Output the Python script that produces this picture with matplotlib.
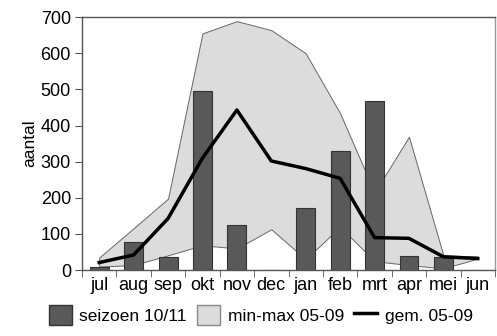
import matplotlib
matplotlib.use("Agg")
import matplotlib.pyplot as plt
import numpy as np
from matplotlib.patches import Patch
from matplotlib.lines import Line2D

plt.rcParams['font.family'] = ['Liberation Sans', 'DejaVu Sans']

months = ['jul', 'aug', 'sep', 'okt', 'nov', 'dec', 'jan', 'feb', 'mrt', 'apr', 'mei', 'jun']
season_1011 = [9, 77, 35, 495, 124, 0, 171, 331, 468, 39, 35, 0]
min_0509 = [10, 14, 41, 69, 60, 113, 30, 120, 25, 14, 5, 32]
max_0509 = [35, 116, 198, 655, 689, 664, 600, 434, 215, 369, 41, 38]
mean_0509 = [21, 42, 143, 310, 443, 302, 281, 254, 90, 88, 37, 32]
yticks = [0, 100, 200, 300, 400, 500, 600, 700]

fig = plt.figure(figsize=(4.97, 3.36), dpi=100)
ax = fig.add_axes([0.165, 0.196, 0.831, 0.753])

x = np.arange(len(months))
ax.fill_between(x, min_0509, max_0509, facecolor='#dcdcdc', edgecolor='#666666', linewidth=0.7, zorder=1)
ax.bar(x, season_1011, width=0.55, color='#595959', edgecolor='#333333', linewidth=0.8, zorder=2)
ax.plot(x, mean_0509, color='black', linewidth=2.5, zorder=3)

ax.set_xlim(-0.5, len(months) - 0.5)
ax.set_ylim(0, 700)
ax.set_yticks(yticks)
ax.set_xticks(x)
ax.set_xticklabels(months)
ax.set_xticks(np.arange(-0.5, len(months)), minor=True)
ax.tick_params(axis='x', which='major', length=0, labelsize=13, pad=5)
ax.tick_params(axis='x', which='minor', length=5, direction='out', color='#555555')
ax.tick_params(axis='y', length=5, direction='out', labelsize=13, color='#555555', pad=3)
ax.set_ylabel('aantal', fontsize=12.5, labelpad=2)
for side in ['top', 'right', 'bottom', 'left']:
    ax.spines[side].set_color('#555555')
    ax.spines[side].set_linewidth(1)
ax.spines['right'].set_color('#999999')

handles = [Patch(facecolor='#595959', edgecolor='#333333'),
           Patch(facecolor='#dcdcdc', edgecolor='#888888'),
           Line2D([0], [0], color='black', linewidth=2.5)]
labels = ['seizoen 10/11', 'min-max 05-09', 'gem. 05-09']
fig.legend(handles, labels, loc='lower center', bbox_to_anchor=(0.525, -0.015), ncol=3,
           frameon=False, fontsize=12.5, handlelength=1.3, handleheight=1.4,
           handletextpad=0.45, columnspacing=0.6)

fig.savefig('out.png', dpi=100)
